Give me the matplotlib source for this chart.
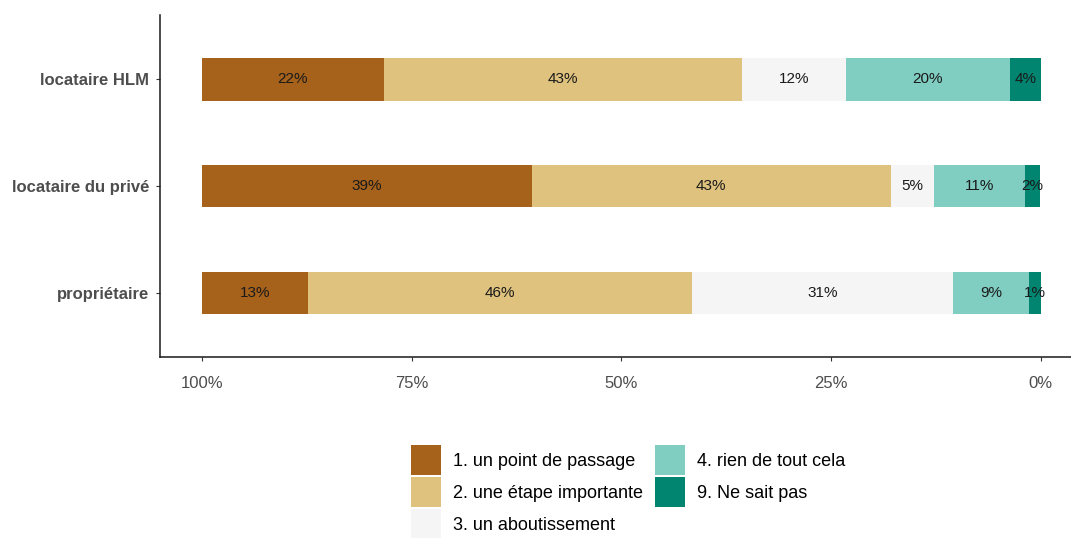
import numpy as np
import matplotlib.pyplot as plt
from matplotlib.ticker import FuncFormatter

plt.rcParams['font.family'] = ['Liberation Sans', 'DejaVu Sans']

# Data (percent shares)
groups = ["propriétaire", "locataire du privé", "locataire HLM"]
answers = ["1. un point de passage", "2. une étape importante", "3. un aboutissement",
           "4. rien de tout cela", "9. Ne sait pas"]
passage = [12.6, 39.3, 21.7]
etape = [45.8, 42.8, 42.7]
aboutissement = [31.1, 5.2, 12.4]
rien = [9.1, 10.8, 19.5]
nsp = [1.4, 1.8, 3.7]
colors = ["#A6611A", "#DFC27D", "#F5F5F5", "#80CDC1", "#018571"]

series = [passage, etape, aboutissement, rien, nsp]

fig = plt.figure(figsize=(10.71, 5.38), dpi=100)
ax = fig.add_axes([160 / 1071, 1 - 357 / 538, (1071 - 160) / 1071, (357 - 15) / 538])

y = np.arange(1, len(groups) + 1)
# stacking from 100% (left) down to 0% (right)
left = np.full(len(groups), 100.0)
for vals, col, lab in zip(series, colors, answers):
    vals = np.array(vals)
    start = left - vals
    ax.barh(y, vals, left=start, height=0.4, color=col, label=lab, edgecolor='none')
    for yi, s, v in zip(y, start, vals):
        ax.text(s + v / 2, yi, f"{round(v):.0f}%", ha='center', va='center',
                fontsize=11, color='#1a1a1a')
    left = start

ax.set_xlim(105, -3.6)
ax.set_ylim(0.4, 3.6)
ax.set_xticks([100, 75, 50, 25, 0])
ax.xaxis.set_major_formatter(FuncFormatter(lambda v, p: f"{v:.0f}%"))
ax.set_yticks(y)
ax.set_yticklabels(groups, fontweight='bold')
ax.tick_params(axis='both', colors='#333333', labelcolor='#4d4d4d', labelsize=12, length=3)
ax.tick_params(axis='x', pad=11)
ax.tick_params(axis='y', pad=5)
for s in ['top', 'right']:
    ax.spines[s].set_visible(False)
for s in ['left', 'bottom']:
    ax.spines[s].set_color('#1a1a1a')
    ax.spines[s].set_linewidth(1.1)

handles, labels = ax.get_legend_handles_labels()
fig.legend(handles, labels, ncol=2, loc='upper left',
           bbox_to_anchor=(402 / 1071, 1 - 436 / 538), frameon=False,
           fontsize=13, handlelength=1.66, handleheight=2.18, labelspacing=0.12,
           handletextpad=0.65, columnspacing=0.67, borderpad=0)

fig.savefig("out.png", dpi=100, facecolor='white')
